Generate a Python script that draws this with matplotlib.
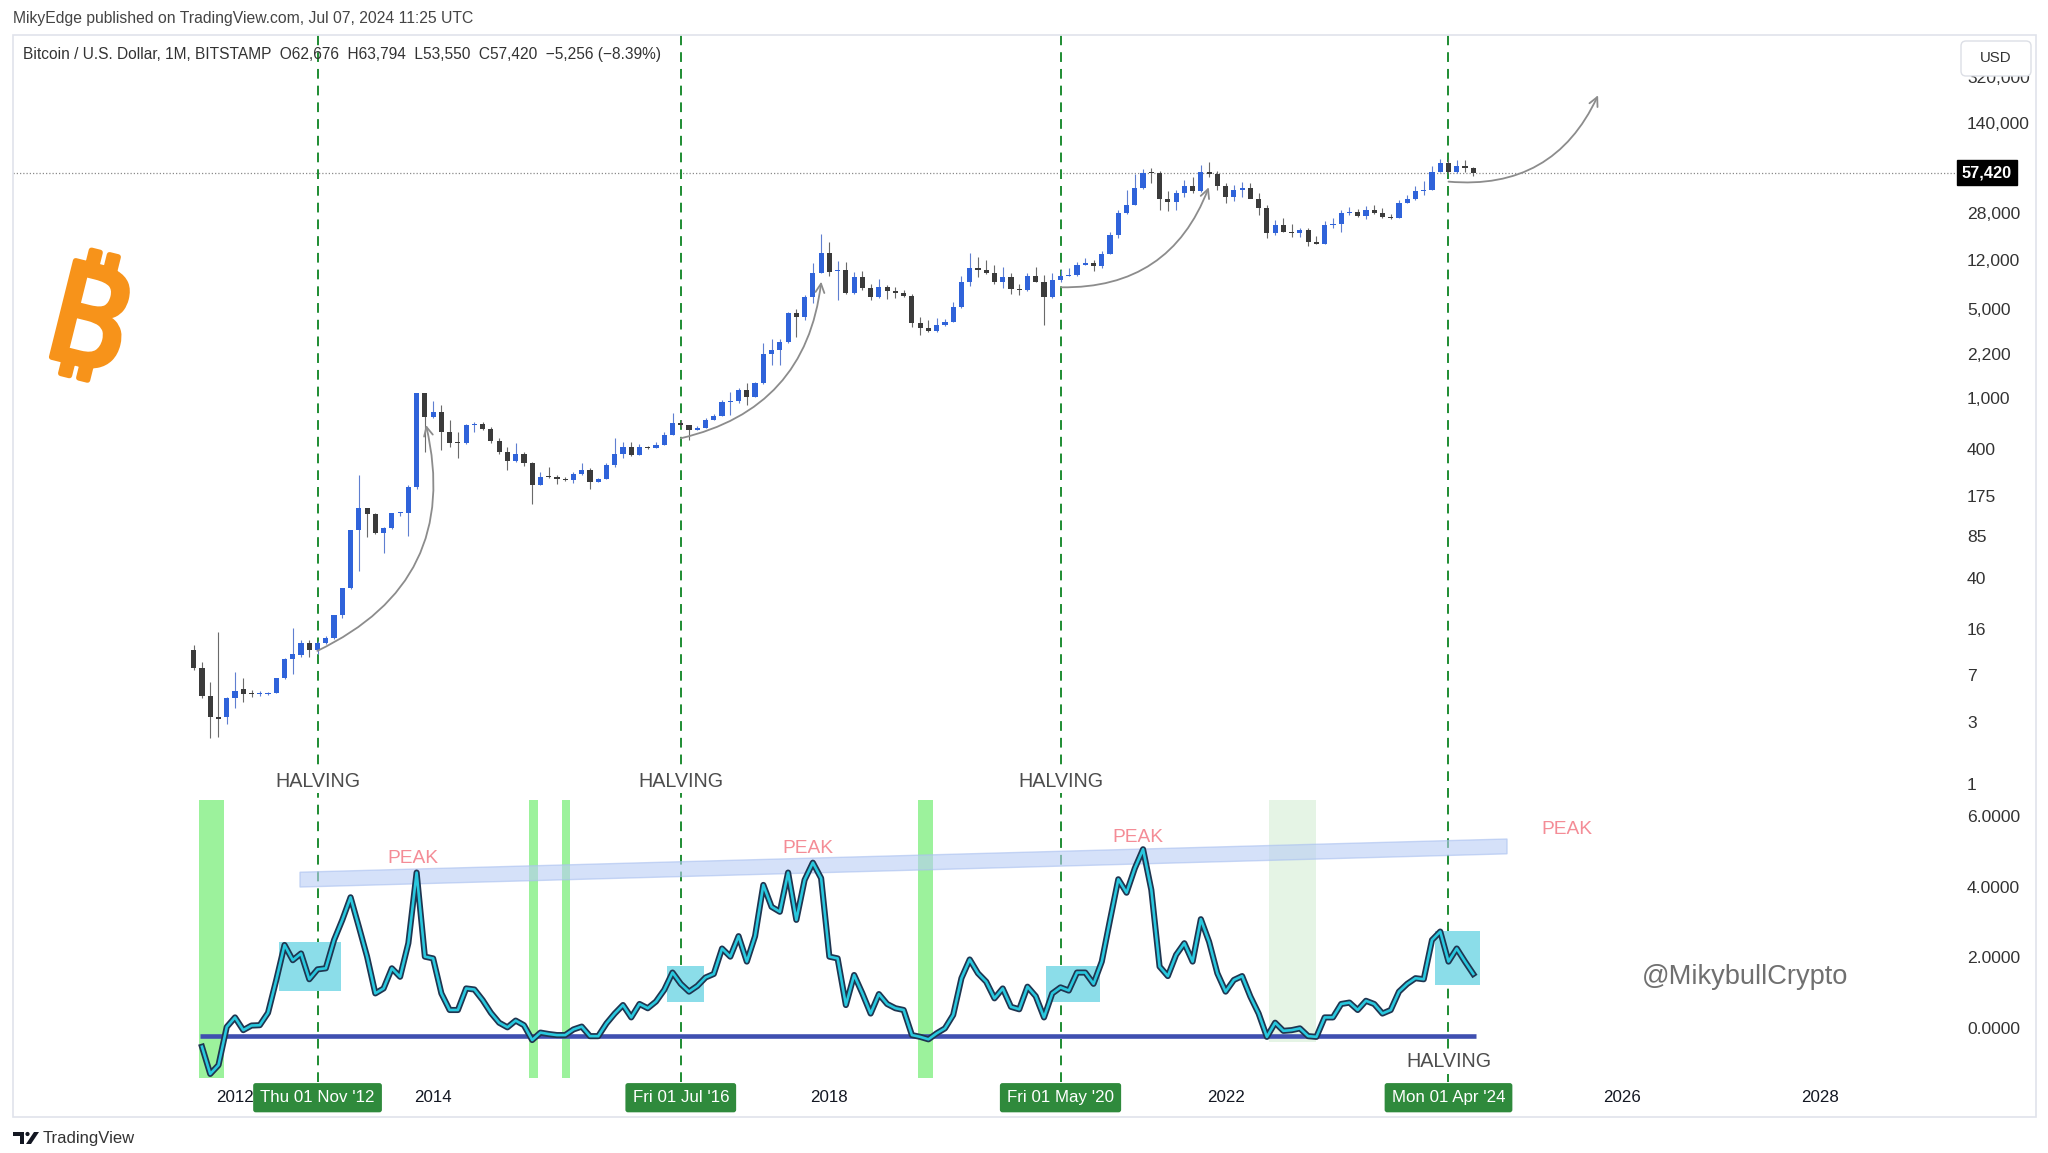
import numpy as np
import pandas as pd
import matplotlib
matplotlib.use("Agg")
import matplotlib.pyplot as plt
import matplotlib.patheffects as pe
import matplotlib.transforms as mtrans
from matplotlib.patches import Rectangle, Polygon, Circle, FancyBboxPatch
from matplotlib.ticker import NullLocator

# ---------------- data (monthly BTC/USD, Bitstamp) ----------------
months = pd.date_range("2011-08-01", periods=156, freq="MS")

opens = [
    11.0, 7.9, 4.8, 3.3, 3.3,
    4.6, 5.5, 5.0, 4.95, 5.0, 5.1, 6.6, 9.3, 10.1, 12.4, 11.0, 12.4,
    13.5, 20.6, 33.2, 94, 139, 126, 90, 97, 127, 128, 203, 1096,
    720, 788, 545, 450, 447, 621, 632, 574, 469, 384, 327, 369,
    316, 212, 246, 243, 236, 233, 256, 277, 224, 236, 303, 369,
    421, 362, 421, 413, 433, 519, 647, 621, 570, 590, 679, 729,
    943, 950, 1162, 1031, 1310, 2218, 2383, 2765, 4603, 4285, 6195, 9530,
    13490, 9800, 10000, 6590, 8770, 7200, 6195, 7330, 6860, 6600, 6300, 3890,
    3555, 3350, 3730, 3955, 5120, 8110, 10300, 10000, 9500, 8110, 8870, 7080,
    7000, 8980, 8110, 6130, 8360, 8980, 9100, 10940, 11300, 10800, 13330, 18740,
    27620, 32000, 43300, 57300, 57000, 35550, 34040, 39560, 45100, 41500, 58300, 55500,
    45000, 36800, 42000, 43750, 35720, 30220, 19320, 22400, 19800, 19400, 20400, 16600,
    16000, 22400, 23000, 27620, 28200, 26330, 29320, 27700, 25800, 25500, 33060, 35550,
    41000, 42000, 58300, 67760, 58000, 64500, 62676,
]
highs = [
    11.9, 8.9, 6.2, 15.1, 4.7,
    7.4, 6.6, 5.35, 5.3, 5.2, 6.7, 9.5, 16.4, 13.2, 13.2, 13.0, 14.0,
    20.7, 33.5, 95, 253, 140, 127, 100, 128, 130, 212, 1110, 1110,
    960, 889, 679, 550, 635, 658, 650, 600, 490, 420, 447, 385,
    320, 265, 290, 255, 245, 265, 312, 285, 240, 316, 489, 460,
    460, 440, 425, 460, 550, 765, 680, 625, 610, 705, 750, 975,
    1128, 1200, 1310, 1340, 2686, 2884, 2900, 4700, 5000, 6400, 11300, 18970,
    16600, 11700, 11600, 9700, 9900, 7750, 8450, 7700, 7400, 7000, 6550, 4300,
    4100, 4200, 4150, 5600, 9000, 13490, 12700, 11960, 10900, 10500, 9500, 7750,
    9550, 10500, 9200, 9450, 10050, 10400, 11450, 12450, 12050, 14100, 19900, 29300,
    42000, 56000, 61700, 62000, 59500, 41300, 42300, 50500, 52900, 65760, 69000, 59000,
    48000, 45800, 48200, 47400, 40000, 31900, 24600, 25200, 22800, 21100, 21400, 18400,
    23900, 25200, 29200, 31000, 29800, 31400, 31800, 30200, 27500, 35200, 38400, 44700,
    48900, 64000, 73800, 72800, 72000, 72000, 63794,
]
lows = [
    7.6, 4.6, 2.25, 2.3, 2.9,
    3.9, 4.3, 4.75, 4.8, 4.9, 5.1, 6.5, 7.2, 9.6, 9.6, 10.2, 12.2,
    13.3, 19.5, 33, 45, 84, 88, 63, 96, 122, 85, 196, 384,
    705, 396, 420, 341, 440, 550, 565, 447, 370, 277, 320, 300,
    150, 210, 240, 215, 226, 220, 254, 196, 222, 235, 294, 341,
    355, 360, 400, 410, 430, 517, 600, 470, 565, 590, 675, 728,
    743, 920, 889, 1030, 1300, 1820, 1820, 2700, 3025, 4100, 5500, 9500,
    9000, 5840, 6500, 6450, 7000, 5800, 6100, 5900, 6100, 6200, 3600, 3118,
    3300, 3300, 3650, 3950, 5100, 7450, 8870, 9300, 7800, 7300, 6500, 6400,
    6900, 8000, 3730, 6100, 8100, 8900, 8950, 10900, 9800, 10400, 13200, 17600,
    27500, 31800, 43000, 47300, 29300, 28800, 29300, 37300, 39600, 40500, 53250, 42000,
    33000, 34300, 37200, 37700, 26700, 17600, 18800, 19600, 18200, 18200, 15500, 15900,
    15900, 21400, 19600, 27000, 25800, 24800, 27500, 25300, 24900, 25200, 33000, 35000,
    38500, 41900, 58000, 56500, 56500, 58400, 53550,
]
closes = [
    7.9, 4.8, 3.3, 3.2, 4.6,
    5.3, 5.0, 4.95, 5.0, 5.1, 6.6, 9.3, 10.2, 12.4, 11.0, 12.4, 13.5,
    20.6, 33.2, 94, 139, 126, 90, 97, 127, 128, 203, 1096, 720,
    788, 545, 447, 447, 621, 632, 574, 469, 384, 327, 369, 316,
    212, 246, 243, 236, 233, 256, 277, 224, 236, 303, 369, 421,
    362, 421, 413, 433, 519, 647, 621, 570, 590, 679, 729, 943,
    950, 1162, 1031, 1310, 2218, 2383, 2765, 4603, 4285, 6195, 9530, 13490,
    9700, 10000, 6590, 8770, 7200, 6195, 7330, 6860, 6600, 6300, 3890, 3555,
    3350, 3730, 3955, 5120, 8110, 10300, 10000, 9500, 8110, 8870, 7080, 7000,
    8980, 8110, 6130, 8360, 8980, 9100, 10940, 11300, 10800, 13330, 18740, 27620,
    32000, 43300, 57300, 57000, 35550, 34040, 39560, 45100, 41500, 58300, 55500, 45000,
    36800, 42000, 43750, 35720, 30220, 19320, 22400, 19800, 19400, 20400, 16600, 16000,
    22400, 23000, 27620, 28200, 26330, 29320, 27700, 25800, 25500, 33060, 35550, 41000,
    42000, 58300, 67760, 58000, 64500, 62676, 57420,
]

# lower oscillator, Sep 2011 .. Jul 2024
osc_months = pd.date_range("2011-09-01", periods=155, freq="MS")
osc = [
    -0.53, -1.30, -1.05, 0.03, 0.30, -0.06, 0.07, 0.08, 0.43, 1.36, 2.35, 1.92,
    2.11, 1.38, 1.66, 1.69, 2.49, 3.06, 3.70, 2.87, 2.02, 0.98, 1.12, 1.69,
    1.45, 2.40, 4.40, 2.02, 1.97, 0.98, 0.51, 0.51, 1.12, 1.09, 0.79, 0.43,
    0.15, 0.02, 0.21, 0.08, -0.34, -0.13, -0.17, -0.20, -0.20, -0.04, 0.04, -0.23,
    -0.23, 0.13, 0.41, 0.65, 0.30, 0.68, 0.56, 0.75, 1.08, 1.57, 1.25, 1.03,
    1.19, 1.43, 1.53, 2.25, 2.02, 2.60, 1.88, 2.60, 4.05, 3.43, 3.29, 4.40,
    3.06, 4.19, 4.68, 4.24, 2.02, 1.97, 0.65, 1.50, 0.98, 0.41, 0.96, 0.68,
    0.56, 0.51, -0.20, -0.25, -0.32, -0.15, -0.01, 0.37, 1.41, 1.94, 1.55, 1.31,
    0.84, 1.12, 0.60, 0.53, 1.17, 0.90, 0.30, 0.98, 1.15, 1.06, 1.57, 1.57,
    1.25, 1.88, 3.06, 4.21, 3.83, 4.52, 5.06, 3.91, 1.74, 1.47, 2.07, 2.40,
    1.88, 3.08, 2.44, 1.55, 1.03, 1.36, 1.47, 0.89, 0.41, -0.25, 0.15, -0.08,
    -0.06, -0.01, -0.23, -0.25, 0.30, 0.30, 0.68, 0.72, 0.51, 0.77, 0.68, 0.41,
    0.51, 1.03, 1.25, 1.41, 1.38, 2.49, 2.73, 1.88, 2.25, 1.88, 1.53,
]

halving_dates = ["2012-11-01", "2016-07-01", "2020-05-01", "2024-04-01"]
halving_tags = ["Thu 01 Nov '12", "Fri 01 Jul '16", "Fri 01 May '20", "Mon 01 Apr '24"]
price_ticks = [1, 3, 7, 16, 40, 85, 175, 400, 1000, 2200, 5000, 12000, 28000, 140000, 320000]
osc_ticks = [0, 2, 4, 6]
year_ticks = [2012, 2014, 2018, 2022, 2026, 2028]
last_price = 57420
header = "MikyEdge published on TradingView.com, Jul 07, 2024 11:25 UTC"
legend = "Bitcoin / U.S. Dollar, 1M, BITSTAMP  O62,676  H63,794  L53,550  C57,420  \u22125,256 (\u22128.39%)"


def yr(d):
    d = pd.Timestamp(d)
    return d.year + (d.month - 1) / 12 + (d.day - 1) / 365


plt.rcParams["font.family"] = ["Liberation Sans", "DejaVu Sans"]

BLUE = "#2f63da"
DARK = "#3b3b3b"
GREEN = "#1e8c32"

W, H = 2048, 1153
fig = plt.figure(figsize=(W / 100, H / 100), dpi=100)
fig.patch.set_facecolor("white")


def fx(px):
    return px / W


def fy(py):
    return 1 - py / H


ax = fig.add_axes([fx(13), fy(1082), fx(1955) - fx(13), fy(35) - fy(1082)])
ax2 = ax.twinx()
ax.yaxis.tick_right()
for a in (ax, ax2):
    for s in a.spines.values():
        s.set_visible(False)
ax2.patch.set_visible(False)

# ---------------- candles ----------------
x = np.array([yr(d) for d in months])
o, h, l, c = (np.array(v, dtype=float) for v in (opens, highs, lows, closes))
up = c >= o
col = np.where(up, BLUE, DARK)
bot = np.minimum(o, c)
top = np.maximum(np.maximum(o, c), bot * 1.02)
ax.vlines(x, l, h, colors=np.where(up, "#5f7fd0", "#6a6a6a"), lw=0.8, zorder=3)
ax.bar(x, top - bot, bottom=bot, width=0.052, color=col, linewidth=0, zorder=4)

ax.set_yscale("log")
ax.set_xlim(2009.759, 2029.363)
ax.set_ylim(10 ** -2.324, 10 ** 5.830)
ax.yaxis.set_minor_locator(NullLocator())
ax.set_yticks(price_ticks, labels=[f"{t:,}" for t in price_ticks])
ax.tick_params(axis="y", length=0, pad=8.6, labelsize=12.6, colors="#333333")
ax.set_xticks(year_ticks, labels=[str(t) for t in year_ticks])
ax.xaxis.set_minor_locator(NullLocator())
ax.tick_params(axis="x", length=0, pad=5.5, labelsize=12.2, colors="#131722")

# last price dotted line + tag
ax.axhline(last_price, color="#8a8a8a", lw=0.9, ls=(0, (1, 1.6)), zorder=2)
ax.text(1.0036, last_price, f"{last_price:,}",
        transform=mtrans.blended_transform_factory(ax.transAxes, ax.transData),
        ha="left", va="center", color="white", fontsize=11.8, fontweight="bold",
        bbox=dict(boxstyle="square,pad=0.3", fc="black", ec="black"), clip_on=False)

# halving dashed lines
for d in halving_dates:
    ax.axvline(yr(d), color=GREEN, lw=1.4, ls=(0, (5, 3.6)), zorder=2)

# curved arrows on price
arrow_kw = dict(arrowstyle="->", color="#8c8c8c", lw=1.3, mutation_scale=16,
                shrinkA=0, shrinkB=0)
for (x0, p0), (x1, p1), rad in [((2012.831, 10.8), (2013.928, 621), 0.4),
                                ((2016.50, 489), (2017.918, 8110), 0.35),
                                ((2020.34, 7330), (2021.83, 44060), 0.35),
                                ((2024.25, 48750), (2025.76, 229400), 0.35)]:
    ax.annotate("", xy=(x1, p1), xytext=(x0, p0),
                arrowprops=dict(connectionstyle=f"arc3,rad={rad}", **arrow_kw), zorder=6)

# ---------------- oscillator pane ----------------
ax2.set_ylim(-1.528, 28.106)
ax2.set_yticks(osc_ticks, labels=[f"{t:.4f}" for t in osc_ticks])
ax2.yaxis.set_minor_locator(NullLocator())
ax2.tick_params(axis="y", length=0, pad=8.6, labelsize=12.6, colors="#333333")

for x0, x1 in [(2011.635, 2011.884), (2014.968, 2015.059), (2015.301, 2015.382),
               (2018.890, 2019.046)]:
    ax2.add_patch(Rectangle((x0, -1.42), x1 - x0, 7.87, fc="#9cf29c", ec="none", zorder=1))
ax2.add_patch(Rectangle((2022.438, -0.40), 0.474, 6.85, fc="#e5f4e5", ec="none", zorder=1))

for x0, x1, v0, v1 in [(2012.440, 2013.072, 1.05, 2.43), (2016.357, 2016.734, 0.74, 1.75),
                       (2020.182, 2020.735, 0.74, 1.75), (2024.109, 2024.568, 1.22, 2.75)]:
    ax2.add_patch(Rectangle((x0, v0), x1 - x0, v1 - v0, fc="#8bdde9", ec="none", zorder=2))

ax2.add_patch(Polygon([(2012.656, 3.99), (2012.656, 4.41), (2024.841, 5.35), (2024.841, 4.93)],
                      closed=True, fc="#b9cdf5", ec="#a9c0f0", alpha=0.6, lw=1, zorder=2))

ax2.hlines(-0.23, 2011.647, 2024.528, color="#3f4fb0", lw=3.3, zorder=3)

xo = np.array([yr(d) for d in osc_months])
ax2.plot(xo, osc, color="#29c8de", lw=1.9, solid_joinstyle="round", zorder=5,
         path_effects=[pe.Stroke(linewidth=4.4, foreground="#1f3550"), pe.Normal()])

for d in halving_dates[:3]:
    ax2.text(yr(d), 6.99, "HALVING", ha="center", va="center", fontsize=14.2,
             color="#4d4d4d", bbox=dict(fc="white", ec="none", pad=1.5), zorder=7)
ax2.text(yr(halving_dates[3]), -0.96, "HALVING", ha="center", va="center", fontsize=14.2,
         color="#4d4d4d", bbox=dict(fc="white", ec="none", pad=1.5), zorder=7)

for px, pv in [(2013.797, 4.81), (2017.784, 5.07), (2021.116, 5.38), (2025.446, 5.63)]:
    ax2.text(px, pv, "PEAK", ha="center", va="center", fontsize=13.8, color="#f48c96", zorder=7)

ax2.text(2027.243, 1.44, "@MikybullCrypto", ha="center", va="center", fontsize=19.6,
         color="#707070", zorder=7)

# halving date tags on the time axis
tb = mtrans.blended_transform_factory(ax2.transData, ax2.transAxes)
for d, tag in zip(halving_dates, halving_tags):
    ax2.text(yr(d), -0.0150, tag, transform=tb, ha="center", va="center", color="white",
             fontsize=12.2, clip_on=False, zorder=8,
             bbox=dict(boxstyle="round,pad=0.42,rounding_size=0.15", fc="#2f8a3c", ec="none"))

# ---------------- frame & captions ----------------
fig.add_artist(Rectangle((fx(13), fy(1117)), fx(2036) - fx(13), fy(35) - fy(1117),
                         transform=fig.transFigure, fill=False, ec="#e0e3eb", lw=1.2))

fig.text(fx(13), fy(18), header, ha="left", va="center", fontsize=11.3, color="#444444")
fig.text(fx(23), fy(55), legend, ha="left", va="center", fontsize=11.2, color="#333333")

fig.add_artist(FancyBboxPatch((1961, H - 76), 70, 35, boxstyle="round,pad=0,rounding_size=5",
                              transform=mtrans.IdentityTransform(), fc="white", ec="#dcdfe6", lw=1))
fig.text(fx(1996), fy(58), "USD", ha="center", va="center", fontsize=10.8, color="#333333")

fig.text(fx(86), fy(328), "\u20bf", ha="center", va="center", fontsize=100, rotation=-14,
         color="#f7931a", fontweight="bold", family=["Noto Sans", "DejaVu Sans"],
         path_effects=[pe.withStroke(linewidth=4, foreground="#f7931a")])

# TradingView footer
ident = mtrans.IdentityTransform()
logo = "#131722"
fig.add_artist(Rectangle((13, H - 1136), 11, 4, transform=ident, fc=logo, ec="none"))
fig.add_artist(Rectangle((19.5, H - 1144), 4.5, 12, transform=ident, fc=logo, ec="none"))
fig.add_artist(Circle((27.5, H - 1134), 2.1, transform=ident, fc=logo, ec="none"))
fig.add_artist(Polygon([(26, H - 1144), (31, H - 1144), (39, H - 1132), (34, H - 1132)],
                       closed=True, transform=ident, fc=logo, ec="none"))
fig.text(fx(43), fy(1139), "TradingView", ha="left", va="center", fontsize=12,
         color="#333333")

fig.savefig("out.png", dpi=100, facecolor="white")
